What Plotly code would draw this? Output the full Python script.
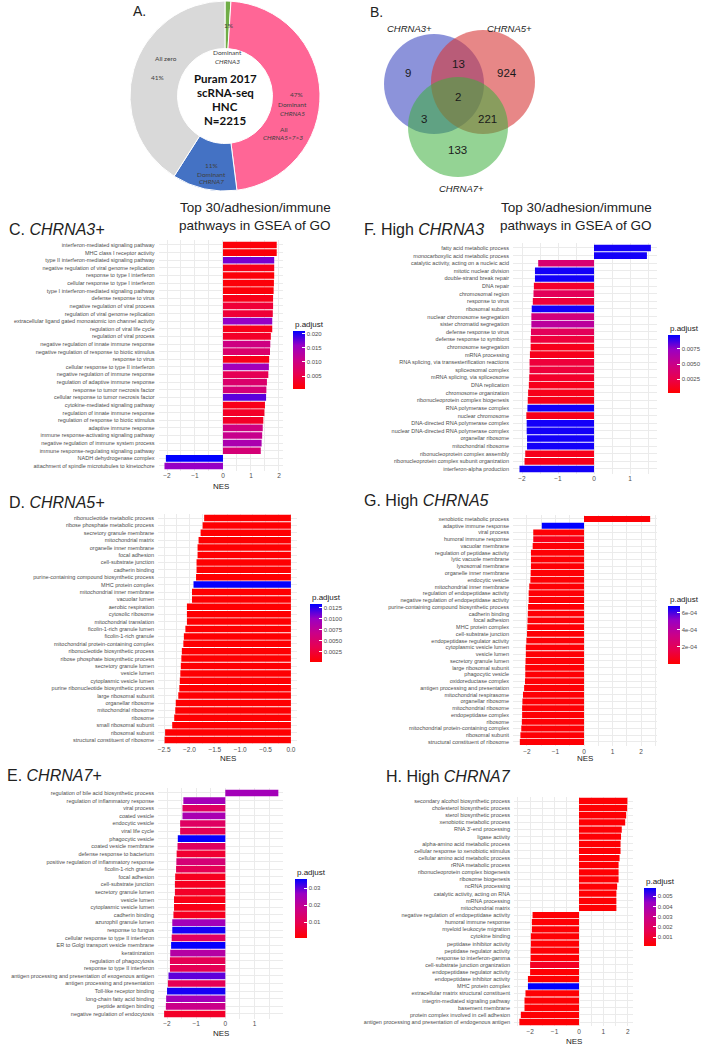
import plotly.graph_objects as go

W, H = 709, 1049
def X(px): return px / W
def Y(py): return 1 - py / H

# ---------------- Panel A data ----------------
pie_labels = ["Dominant CHRNA3", "Dominant CHRNA5", "Dominant CHRNA7", "All zero"]
pie_values = [1, 47, 11, 41]
pie_colors = ["#70AD47", "#FF6696", "#4472C4", "#D9D9D9"]

# ---------------- Panel B data ----------------
venn_sets = ["CHRNA3+", "CHRNA5+", "CHRNA7+"]
venn_regions = ["3 only", "3&5", "5 only", "3&5&7", "3&7", "5&7", "7 only"]
venn_counts = [9, 13, 924, 2, 3, 221, 133]

# ---------------- Panel C: CHRNA3+ ----------------
labels_C = ["interferon-mediated signaling pathway", "MHC class I receptor activity",
    "type II interferon-mediated signaling pathway", "negative regulation of viral genome replication",
    "response to type I interferon", "cellular response to type I interferon",
    "type I interferon-mediated signaling pathway", "defense response to virus",
    "negative regulation of viral process", "regulation of viral genome replication",
    "extracellular ligand gated monoatomic ion channel activity", "regulation of viral life cycle",
    "regulation of viral process", "negative regulation of innate immune response",
    "negative regulation of response to biotic stimulus", "response to virus",
    "cellular response to type II interferon", "negative regulation of immune response",
    "regulation of adaptive immune response", "response to tumor necrosis factor",
    "cellular response to tumor necrosis factor", "cytokine-mediated signaling pathway",
    "regulation of innate immune response", "regulation of response to biotic stimulus",
    "adaptive immune response", "immune response-activating signaling pathway",
    "negative regulation of immune system process", "immune response-regulating signaling pathway",
    "NADH dehydrogenase complex", "attachment of spindle microtubules to kinetochore"]
nes_C = [1.92, 1.92, 1.83, 1.83, 1.83, 1.82, 1.81, 1.79, 1.79, 1.78, 1.76, 1.76, 1.71, 1.69, 1.68,
         1.65, 1.64, 1.62, 1.57, 1.55, 1.54, 1.50, 1.48, 1.44, 1.42, 1.40, 1.38, 1.35, -2.04, -2.09]
padj_C = [0.001, 0.001, 0.017, 0.002, 0.001, 0.001, 0.001, 0.002, 0.004, 0.004, 0.016, 0.002, 0.003,
          0.010, 0.008, 0.002, 0.015, 0.006, 0.008, 0.009, 0.018, 0.002, 0.003, 0.003, 0.010, 0.011,
          0.014, 0.009, 0.021, 0.016]

# ---------------- Panel F: High CHRNA3 ----------------
labels_F = ["fatty acid metabolic process", "monocarboxylic acid metabolic process",
    "catalytic activity, acting on a nucleic acid", "mitotic nuclear division", "double-strand break repair",
    "DNA repair", "chromosomal region", "response to virus", "ribosomal subunit",
    "nuclear chromosome segregation", "sister chromatid segregation", "defense response to virus",
    "defense response to symbiont", "chromosome segregation", "mRNA processing",
    "RNA splicing, via transesterification reactions", "spliceosomal complex",
    "mRNA splicing, via spliceosome", "DNA replication", "chromosome organization",
    "ribonucleoprotein complex biogenesis", "RNA polymerase complex", "nuclear chromosome",
    "DNA-directed RNA polymerase complex", "nuclear DNA-directed RNA polymerase complex",
    "organellar ribosome", "mitochondrial ribosome", "ribonucleoprotein complex assembly",
    "ribonucleoprotein complex subunit organization", "interferon-alpha production"]
nes_F = [1.58, 1.47, -1.55, -1.64, -1.64, -1.67, -1.68, -1.70, -1.73, -1.74, -1.74, -1.75, -1.76, -1.76,
         -1.78, -1.79, -1.79, -1.80, -1.81, -1.83, -1.84, -1.85, -1.88, -1.87, -1.87, -1.86, -1.86,
         -1.91, -1.93, -2.07]
padj_F = [0.0095, 0.0095, 0.004, 0.0095, 0.0095, 0.0015, 0.003, 0.002, 0.0095, 0.0045, 0.0058, 0.003,
          0.002, 0.001, 0.001, 0.002, 0.002, 0.0015, 0.001, 0.001, 0.001, 0.0095, 0.001, 0.0095, 0.0095,
          0.0095, 0.0095, 0.001, 0.001, 0.0095]

# ---------------- Panel D: CHRNA5+ ----------------
labels_D = ["ribonucleotide metabolic process", "ribose phosphate metabolic process",
    "secretory granule membrane", "mitochondrial matrix", "organelle inner membrane", "focal adhesion",
    "cell-substrate junction", "cadherin binding", "purine-containing compound biosynthetic process",
    "MHC protein complex", "mitochondrial inner membrane", "vacuolar lumen", "aerobic respiration",
    "cytosolic ribosome", "mitochondrial translation", "ficolin-1-rich granule lumen",
    "ficolin-1-rich granule", "mitochondrial protein-containing complex",
    "ribonucleotide biosynthetic process", "ribose phosphate biosynthetic process",
    "secretory granule lumen", "vesicle lumen", "cytoplasmic vesicle lumen",
    "purine ribonucleotide biosynthetic process", "large ribosomal subunit", "organellar ribosome",
    "mitochondrial ribosome", "ribosome", "small ribosomal subunit", "ribosomal subunit",
    "structural constituent of ribosome"]
nes_D = [-1.71, -1.74, -1.78, -1.82, -1.84, -1.84, -1.86, -1.86, -1.87, -1.92, -1.95, -1.95, -2.05,
         -2.05, -2.05, -2.08, -2.11, -2.12, -2.15, -2.16, -2.17, -2.18, -2.19, -2.20, -2.22, -2.27,
         -2.28, -2.30, -2.34, -2.48, -2.49]
padj_D = [0.0003] * 9 + [0.0133] + [0.0003] * 21

# ---------------- Panel G: High CHRNA5 ----------------
labels_G = ["xenobiotic metabolic process", "adaptive immune response", "viral process",
    "humoral immune response", "vacuolar membrane", "regulation of peptidase activity",
    "lytic vacuole membrane", "lysosomal membrane", "organelle inner membrane", "endocytic vesicle",
    "mitochondrial inner membrane", "regulation of endopeptidase activity",
    "negative regulation of endopeptidase activity", "purine-containing compound biosynthetic process",
    "cadherin binding", "focal adhesion", "MHC protein complex", "cell-substrate junction",
    "endopeptidase regulator activity", "cytoplasmic vesicle lumen", "vesicle lumen",
    "secretory granule lumen", "large ribosomal subunit", "phagocytic vesicle", "oxidoreductase complex",
    "antigen processing and presentation", "mitochondrial respirasome", "organellar ribosome",
    "mitochondrial ribosome", "endopeptidase complex", "ribosome", "mitochondrial protein-containing complex",
    "ribosomal subunit", "structural constituent of ribosome"]
nes_G = [2.32, -1.48, -1.78, -1.78, -1.80, -1.86, -1.86, -1.86, -1.87, -1.88, -1.92, -1.94, -1.94,
         -1.96, -1.97, -1.98, -1.99, -2.00, -2.02, -2.04, -2.04, -2.05, -2.06, -2.06, -2.07, -2.10,
         -2.14, -2.16, -2.17, -2.17, -2.18, -2.20, -2.23, -2.25]
padj_G = [0.00001, 0.00068, 0.00001, 0.00005] + [0.00001] * 30

# ---------------- Panel E: CHRNA7+ ----------------
labels_E = ["regulation of bile acid biosynthetic process", "regulation of inflammatory response",
    "viral process", "coated vesicle", "endocytic vesicle", "viral life cycle", "phagocytic vesicle",
    "coated vesicle membrane", "defense response to bacterium",
    "positive regulation of inflammatory response", "ficolin-1-rich granule", "focal adhesion",
    "cell-substrate junction", "secretory granule lumen", "vesicle lumen", "cytoplasmic vesicle lumen",
    "cadherin binding", "azurophil granule lumen", "response to fungus",
    "cellular response to type II interferon", "ER to Golgi transport vesicle membrane", "keratinization",
    "regulation of phagocytosis", "response to type II interferon",
    "antigen processing and presentation of exogenous antigen", "antigen processing and presentation",
    "Toll-like receptor binding", "long-chain fatty acid binding", "peptide antigen binding",
    "negative regulation of endocytosis"]
nes_E = [1.82, -1.44, -1.47, -1.47, -1.55, -1.55, -1.63, -1.64, -1.67, -1.68, -1.69, -1.72, -1.73,
         -1.73, -1.76, -1.76, -1.78, -1.82, -1.82, -1.84, -1.86, -1.89, -1.90, -1.90, -1.95, -1.97,
         -2.00, -2.03, -2.04, -2.10]
padj_E = [0.025, 0.025, 0.012, 0.024, 0.012, 0.010, 0.035, 0.012, 0.006, 0.015, 0.010, 0.004, 0.004,
          0.005, 0.003, 0.003, 0.004, 0.025, 0.034, 0.012, 0.035, 0.022, 0.010, 0.010, 0.030, 0.010,
          0.034, 0.025, 0.018, 0.005]

# ---------------- Panel H: High CHRNA7 ----------------
labels_H = ["secondary alcohol biosynthetic process", "cholesterol biosynthetic process",
    "sterol biosynthetic process", "xenobiotic metabolic process", "RNA 3'-end processing", "ligase activity",
    "alpha-amino acid metabolic process", "cellular response to xenobiotic stimulus",
    "cellular amino acid metabolic process", "rRNA metabolic process",
    "ribonucleoprotein complex biogenesis", "ribosome biogenesis", "ncRNA processing",
    "catalytic activity, acting on RNA", "mRNA processing", "mitochondrial matrix",
    "negative regulation of endopeptidase activity", "humoral immune response",
    "myeloid leukocyte migration", "cytokine binding", "peptidase inhibitor activity",
    "peptidase regulator activity", "response to interferon-gamma", "cell-substrate junction organization",
    "endopeptidase regulator activity", "endopeptidase inhibitor activity", "MHC protein complex",
    "extracellular matrix structural constituent", "integrin-mediated signaling pathway",
    "basement membrane", "protein complex involved in cell adhesion",
    "antigen processing and presentation of endogenous antigen"]
nes_H = [1.98, 1.97, 1.93, 1.89, 1.75, 1.72, 1.70, 1.70, 1.66, 1.62, 1.62, 1.62, 1.56, 1.53, 1.53,
         1.53, -1.90, -1.93, -1.93, -1.97, -1.97, -1.98, -1.98, -2.00, -2.00, -2.09, -2.09, -2.19,
         -2.23, -2.23, -2.38, -2.44]
padj_H = [0.0002] * 23 + [0.0008, 0.0002, 0.0002, 0.0058] + [0.0002] * 5

# colour scale (ggplot red -> blue, Lab interpolation)
CS = [[0, "#FF0000"], [0.25, "#E8004F"], [0.5, "#CA0089"], [0.75, "#9A00C3"], [1, "#0000FF"]]

FONT = "Liberation Sans, Arial, sans-serif"
GRID = "#EBEBEB"
TXT = "#4D4D4D"

fig = go.Figure()

# ---------------- Panel A: donut ----------------
fig.add_trace(go.Pie(labels=pie_labels, values=pie_values, hole=0.5, sort=False,
                     direction="clockwise", rotation=0,
                     marker=dict(colors=pie_colors, line=dict(color="white", width=1)),
                     textinfo="none", hoverinfo="skip", showlegend=False,
                     domain=dict(x=[X(130), X(320)], y=[Y(191), Y(1)])))

annotations = []
shapes = []

def ann(text, px, py, size, color="#222", xanchor="center", family=FONT, yanchor="middle"):
    annotations.append(dict(text=text, x=X(px), y=Y(py), xref="paper", yref="paper",
                             showarrow=False, xanchor=xanchor, yanchor=yanchor,
                             font=dict(size=size, color=color, family=family)))

PF = "Lato, Carlito, sans-serif"
ann("A.", 131, 11, 14, "#222", "left", FONT)
ann(f"{pie_values[0]}%", 228, 26, 6.5, "#404040", family=PF)
ann("Dominant", 227, 53, 6.5, "#404040", family=PF)
ann("<i>CHRNA3</i>", 227, 61, 6.5, "#404040", family=PF)
ann("All zero", 166, 58, 6.5, "#404040", family=PF)
ann(f"{pie_values[3]}%", 157, 77, 6.5, "#404040", family=PF)
ann(f"{pie_values[1]}%", 296, 94, 6.5, "#404040", family=PF)
ann("Dominant", 292, 105, 6.5, "#404040", family=PF)
ann("<i>CHRNA5</i>", 292, 113, 6.5, "#404040", family=PF)
ann("All", 284, 130, 6.5, "#404040", family=PF)
ann("<i>CHRNA5>7>3</i>", 283, 138, 6.5, "#404040", family=PF)
ann(f"{pie_values[2]}%", 211, 166, 6.5, "#404040", family=PF)
ann("Dominant", 211, 174, 6.5, "#404040", family=PF)
ann("<i>CHRNA7</i>", 211, 182, 6.5, "#404040", family=PF)
for i, line in enumerate(["Puram 2017", "scRNA-seq", "HNC", "N=2215"]):
    ann(f"<b>{line}</b>", 225, 79 + i * 13.7, 11.5, "#111", family=PF)

# ---------------- Panel B: Venn ----------------
ann("B.", 368, 12, 14, "#222", "left")
circles = [((434, 84), 50, "rgba(70,80,195,0.62)"),
           ((483, 82), 52, "rgba(215,55,55,0.6)"),
           ((458, 127), 50, "rgba(60,175,60,0.55)")]
for (cx, cy), r, col in circles:
    shapes.append(dict(type="circle", xref="paper", yref="paper",
                       x0=X(cx - r), x1=X(cx + r), y0=Y(cy + r), y1=Y(cy - r),
                       fillcolor=col, line=dict(width=0), layer="above"))
venn_pos = [(408, 73), (458, 64), (507, 73), (458, 97), (424, 119), (487, 119), (457, 150)]
for (px, py), v in zip(venn_pos, venn_counts):
    ann(str(v), px, py, 11.5, "#1a1a1a")
ann(f"<i>{venn_sets[0]}</i>", 409, 28, 9.5, "#222")
ann(f"<i>{venn_sets[1]}</i>", 509, 28, 9.5, "#222")
ann(f"<i>{venn_sets[2]}</i>", 461, 188, 9.5, "#222")

# ---------------- titles ----------------
for cx in (255, 576):
    ann("Top 30/adhesion/immune", cx, 208, 13.5, "#222")
    ann("pathways in GSEA of GO", cx, 225, 13.5, "#222")
ann("C. <i>CHRNA3+</i>", 7, 229, 16, "#222", "left")
ann("F. High <i>CHRNA3</i>", 362, 229, 16, "#222", "left")
ann("D. <i>CHRNA5+</i>", 7, 502, 16, "#222", "left")
ann("G. High <i>CHRNA5</i>", 362, 501, 16, "#222", "left")
ann("E. <i>CHRNA7+</i>", 5, 775, 16, "#222", "left")
ann("H. High <i>CHRNA7</i>", 384, 776, 16, "#222", "left")

# ---------------- bar panels ----------------
panels = [
    dict(lab=labels_C, nes=nes_C, padj=padj_C, xl=158.6, xr=282.6, rng=[-2.3, 2.13], yt=245, yb=466,
         cb=(293, 331, 389), cmin=0.0004, cmax=0.021, tv=[0.005, 0.010, 0.015, 0.020],
         tt=["0.005", "0.010", "0.015", "0.020"], nes_y=487, fmt=None),
    dict(lab=labels_F, nes=nes_F, padj=padj_F, xl=513, xr=657, rng=[-2.25, 1.75], yt=248, yb=469,
         cb=(668, 335, 393), cmin=0.0002, cmax=0.0098, tv=[0.0025, 0.005, 0.0075],
         tt=["0.0025", "0.0050", "0.0075"], nes_y=None, fmt=None),
    dict(lab=labels_D, nes=nes_D, padj=padj_D, xl=158, xr=297, rng=[-2.62, 0.12], yt=518, yb=740,
         cb=(310, 604, 662), cmin=0.0002, cmax=0.0134, tv=[0.0025, 0.005, 0.0075, 0.01, 0.0125],
         tt=["0.0025", "0.0050", "0.0075", "0.0100", "0.0125"], nes_y=758, fmt=".1f"),
    dict(lab=labels_G, nes=nes_G, padj=padj_G, xl=513, xr=657, rng=[-2.49, 2.56], yt=519, yb=742,
         cb=(668, 606, 664), cmin=0.0, cmax=0.00068, tv=[0.0002, 0.0004, 0.0006],
         tt=["2e-04", "4e-04", "6e-04"], nes_y=758, fmt=None),
    dict(lab=labels_E, nes=nes_E, padj=padj_E, xl=158, xr=283, rng=[-2.31, 1.98], yt=793, yb=1014,
         cb=(295, 879, 938), cmin=0.0006, cmax=0.0353, tv=[0.01, 0.02, 0.03],
         tt=["0.01", "0.02", "0.03"], nes_y=1033, fmt=None),
    dict(lab=labels_H, nes=nes_H, padj=padj_H, xl=514, xr=633, rng=[-2.66, 2.21], yt=801, yb=1022,
         cb=(644, 888, 946), cmin=0.00013, cmax=0.0058, tv=[0.001, 0.002, 0.003, 0.004, 0.005],
         tt=["0.001", "0.002", "0.003", "0.004", "0.005"], nes_y=1041, fmt=None),
]

layout_axes = {}
for i, p in enumerate(panels, start=1):
    n = len(p["lab"])
    sp = (p["yb"] - p["yt"]) / (n - 1)
    top = p["yt"] - 0.6 * sp
    bot = p["yb"] + 0.6 * sp
    sfx = "" if i == 1 else str(i)
    cbx, cbt, cbb = p["cb"]
    fig.add_trace(go.Bar(
        x=p["nes"], y=p["lab"], orientation="h", xaxis=f"x{sfx}", yaxis=f"y{sfx}",
        hoverinfo="skip", showlegend=False,
        marker=dict(color=p["padj"], colorscale=CS, cmin=p["cmin"], cmax=p["cmax"],
                    line=dict(width=0), showscale=True,
                    colorbar=dict(x=X(cbx), xanchor="left", y=Y(cbt), yanchor="top",
                                  len=cbb - cbt, lenmode="pixels", thickness=12,
                                  thicknessmode="pixels", xpad=0, ypad=0, outlinewidth=0,
                                  tickmode="array", tickvals=p["tv"], ticktext=p["tt"],
                                  tickfont=dict(size=6, color=TXT, family=FONT),
                                  ticks="inside", ticklen=3, tickcolor="white"))))
    layout_axes[f"xaxis{sfx}"] = dict(
        domain=[X(p["xl"]), X(p["xr"])], range=p["rng"], anchor=f"y{sfx}",
        dtick=0.5 if p["fmt"] else 1, tick0=0, tickformat=p["fmt"] or "",
        showgrid=True, gridcolor=GRID, gridwidth=0.6, zeroline=False, showline=False,
        ticks="", tickfont=dict(size=6.5, color=TXT, family=FONT), automargin=False,
        minor=dict(showgrid=True, gridcolor=GRID, gridwidth=0.4, dtick=0.25 if p["fmt"] else 0.5),
        fixedrange=True)
    layout_axes[f"yaxis{sfx}"] = dict(
        domain=[Y(bot), Y(top)], anchor=f"x{sfx}", type="category",
        categoryorder="array", categoryarray=p["lab"], range=[n - 1 + 0.6, -0.6],
        tickmode="array", tickvals=p["lab"], ticktext=p["lab"],
        showgrid=True, gridcolor=GRID, gridwidth=0.6, zeroline=False, showline=False,
        ticks="", ticklabelstandoff=3, tickfont=dict(size=5.5, color=TXT, family=FONT),
        automargin=False, fixedrange=True)
    ann("p.adjust", cbx, cbt - 7, 8, "#222", "left")
    if p["nes_y"]:
        ann("NES", (p["xl"] + p["xr"]) / 2, p["nes_y"], 8, "#222")

fig.update_layout(
    width=W, height=H, margin=dict(l=0, r=0, t=0, b=0, autoexpand=False),
    paper_bgcolor="white", plot_bgcolor="white", template="none",
    bargap=0.12, showlegend=False, font=dict(family=FONT),
    annotations=annotations, shapes=shapes, **layout_axes)

fig.write_html("out.html")
